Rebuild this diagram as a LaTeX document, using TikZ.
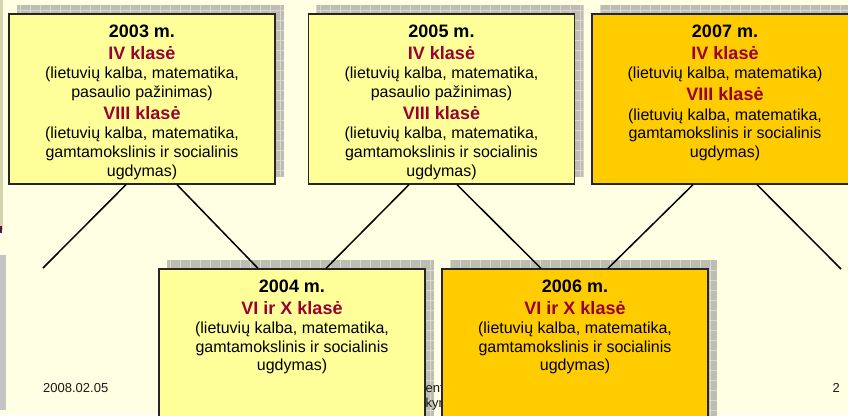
\documentclass[tikz,border=0pt]{standalone}
\usepackage{fontspec}
\setmainfont{Liberation Sans}
\usetikzlibrary{calc}
\definecolor{bgcream}{HTML}{FFFFE3}
\definecolor{boxyellow}{HTML}{FFFF99}
\definecolor{boxorange}{HTML}{FFCC00}
\definecolor{klred}{HTML}{990033}
\definecolor{shadowgray}{HTML}{BDBDB2}
\definecolor{shadowline}{HTML}{D8D8D0}
\definecolor{edgeolive}{HTML}{D4D4AE}
\definecolor{edgegray}{HTML}{C4C4C4}
\definecolor{edgepurple}{HTML}{5A1040}
\pgfdeclarelayer{bglayer}
\pgfdeclarelayer{shadowlayer}
\pgfsetlayers{bglayer,shadowlayer,main}
\newcommand\yrline[1]{{\fontsize{18pt}{18.6pt}\selectfont\bfseries #1}}
\newcommand\klline[1]{{\fontsize{18pt}{18.6pt}\selectfont\bfseries\color{klred}#1}}
\newcommand\mkshadow[1]{%
  \begin{pgfonlayer}{shadowlayer}
  \begin{scope}
    \clip ([shift={(8.5pt,8pt)}]#1.south west) rectangle ([shift={(8.5pt,8pt)}]#1.north east);
    \fill[shadowgray] ([shift={(8.5pt,8pt)}]#1.south west) rectangle ([shift={(8.5pt,8pt)}]#1.north east);
    \draw[shadowline, line width=0.8pt, step=10pt] ([shift={(8.5pt,8pt)}]#1.south west) grid ([shift={(8.5pt,8pt)}]#1.north east);
  \end{scope}
  \end{pgfonlayer}}
\tikzset{
  ybox/.style={rectangle, draw=black!85, line width=1.3pt, fill=boxyellow,
    minimum width=266pt, minimum height=170pt, inner sep=0pt},
  obox/.style={ybox, fill=boxorange},
  txt/.style={anchor=north, align=center, inner sep=0pt,
    font=\fontsize{16pt}{18.6pt}\selectfont},
  foot/.style={inner sep=0pt, font=\fontsize{13pt}{15pt}\selectfont, text=black!90},
  conn/.style={draw=black, line width=1.5pt}
}
\begin{document}
\begin{tikzpicture}[x=1pt, y=-1pt]
\useasboundingbox (0,0) rectangle (848,415);
\begin{pgfonlayer}{bglayer}
  \fill[bgcream] (0,0) rectangle (848,415);
\end{pgfonlayer}
% left-edge remnants
\fill[edgeolive] (0,0) rectangle (3,230);
\fill[edgepurple] (0,226) rectangle (2,233);
\fill[edgegray] (0,255) rectangle (6,410);

% top boxes
\node[ybox] (b2003) at (142,99) {};
\node[ybox] (b2005) at (441.5,99) {};
\node[obox] (b2007) at (725,99) {};
\mkshadow{b2003}
\mkshadow{b2005}
\mkshadow{b2007}

\node[txt] (t2003) at (142,24.8) {\yrline{2003 m.}\\[3pt]\klline{IV klasė}\\[1pt](lietuvių kalba, matematika,\\pasaulio pažinimas)\\[3.4pt]\klline{VIII klasė}\\[1pt](lietuvių kalba, matematika,\\gamtamokslinis ir socialinis\\ugdymas)};
\node[txt] (t2005) at (441.5,24.8) {\yrline{2005 m.}\\[3pt]\klline{IV klasė}\\[1pt](lietuvių kalba, matematika,\\pasaulio pažinimas)\\[3.4pt]\klline{VIII klasė}\\[1pt](lietuvių kalba, matematika,\\gamtamokslinis ir socialinis\\ugdymas)};
\node[txt] (t2007) at (725,24.8) {\yrline{2007 m.}\\[3pt]\klline{IV klasė}\\[1pt](lietuvių kalba, matematika)\\[3.4pt]\klline{VIII klasė}\\[1pt](lietuvių kalba, matematika,\\gamtamokslinis ir socialinis\\ugdymas)};

% footer
\node[foot, anchor=base west] (date) at (43,392) {2008.02.05};
\node[foot, anchor=base east] (pgno) at (840,392) {2};

% bottom boxes
\node[ybox] (b2004) at (292,354) {};
\mkshadow{b2004}
\node[txt] (t2004) at (292,279.8) {\yrline{2004 m.}\\[3pt]\klline{VI ir X klasė}\\[1pt](lietuvių kalba, matematika,\\gamtamokslinis ir socialinis\\ugdymas)};

\node[foot, anchor=base west] (hid1) at (425.5,392) {ent};
\node[foot, anchor=base west] (hid2) at (425.5,407) {kym};

\node[obox] (b2006) at (575,354) {};
\mkshadow{b2006}
\node[txt] (t2006) at (575,279.8) {\yrline{2006 m.}\\[3pt]\klline{VI ir X klasė}\\[1pt](lietuvių kalba, matematika,\\gamtamokslinis ir socialinis\\ugdymas)};

% connectors
\coordinate (endL) at (43,268);
\coordinate (endR) at (841,269);
\draw[conn] (endL) -- ([xshift=-16pt]b2003.south);
\draw[conn] ([xshift=35pt]b2003.south) -- ([xshift=-34pt]b2004.north);
\draw[conn] ([xshift=-32.5pt]b2005.south) -- ([xshift=34pt]b2004.north);
\draw[conn] ([xshift=15.5pt]b2005.south) -- ([xshift=-34pt]b2006.north);
\draw[conn] ([xshift=-32pt]b2007.south) -- ([xshift=33pt]b2006.north);
\draw[conn] ([xshift=32pt]b2007.south) -- (endR);
\end{tikzpicture}
\end{document}
